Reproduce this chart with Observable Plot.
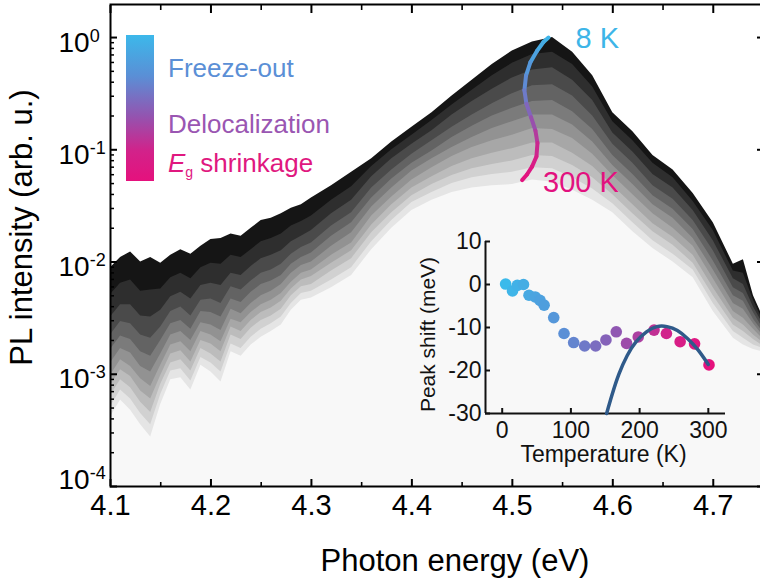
<!DOCTYPE html>
<html><head><meta charset="utf-8">
<script src="https://cdn.jsdelivr.net/npm/d3@7"></script>
<script src="https://cdn.jsdelivr.net/npm/@observablehq/plot@0.6"></script>
<style>
html,body{margin:0;padding:0;background:#fff;overflow:hidden;width:760px;height:578px;}
#wrap{position:relative;width:770px;height:578px;overflow:hidden;font-family:"Liberation Sans",Arial,Helvetica,sans-serif;}
#wrap svg{position:absolute;}
.lg{position:absolute;white-space:nowrap;font-size:26px;line-height:26px;}
</style></head><body><div id="wrap"></div>
<script>
const FONT = '"Liberation Sans", Arial, Helvetica, sans-serif';

// ---- PL spectra: photon energy (eV) and log10 of PL intensity (arb. u.) ----
const energy = [4.10,4.11,4.12,4.13,4.14,4.15,4.16,4.17,4.18,4.19,4.20,4.21,4.22,4.23,4.24,4.25,4.26,4.27,4.28,4.29,4.30,
  4.32,4.34,4.36,4.38,4.40,4.42,4.44,4.46,4.48,4.50,4.52,4.54,4.56,4.58,4.60,4.62,4.64,4.66,4.68,4.70,
  4.72,4.73,4.74,4.75];
const temps = [8,30,60,90,120,150,180,210,240,270,300];
const pl8K = [-2.05,-1.96,-1.91,-2.00,-1.96,-2.01,-1.94,-1.89,-1.93,-1.86,-1.80,-1.79,-1.75,-1.77,-1.70,-1.63,-1.61,-1.57,-1.52,-1.49,-1.43,
  -1.32,-1.20,-1.08,-0.93,-0.80,-0.67,-0.52,-0.38,-0.24,-0.12,-0.04,0.00,-0.13,-0.34,-0.67,-0.84,-1.05,-1.18,-1.39,-1.65,
  -2.02,-1.98,-2.30,-2.50];
const pl30K = [-2.29,-2.19,-2.16,-2.26,-2.25,-2.24,-2.14,-2.10,-2.15,-2.05,-2.01,-2.02,-1.94,-1.96,-1.89,-1.82,-1.79,-1.75,-1.68,-1.64,-1.59,
  -1.45,-1.33,-1.15,-1.00,-0.87,-0.74,-0.60,-0.47,-0.34,-0.23,-0.15,-0.13,-0.24,-0.44,-0.75,-0.92,-1.12,-1.25,-1.46,-1.72,
  -2.08,-2.10,-2.34,-2.53];
const pl60K = [-2.49,-2.38,-2.38,-2.48,-2.49,-2.43,-2.31,-2.27,-2.33,-2.21,-2.19,-2.21,-2.10,-2.12,-2.04,-1.97,-1.94,-1.90,-1.82,-1.77,-1.72,
  -1.57,-1.45,-1.24,-1.08,-0.95,-0.83,-0.69,-0.57,-0.46,-0.36,-0.29,-0.27,-0.38,-0.56,-0.85,-1.02,-1.22,-1.34,-1.54,-1.81,
  -2.15,-2.20,-2.40,-2.56];
const pl90K = [-2.65,-2.53,-2.55,-2.65,-2.68,-2.58,-2.44,-2.40,-2.48,-2.34,-2.33,-2.37,-2.22,-2.25,-2.17,-2.10,-2.07,-2.02,-1.93,-1.87,-1.83,
  -1.68,-1.56,-1.34,-1.18,-1.04,-0.92,-0.80,-0.69,-0.59,-0.50,-0.43,-0.42,-0.52,-0.70,-0.95,-1.12,-1.32,-1.44,-1.63,-1.90,
  -2.23,-2.28,-2.45,-2.60];
const pl120K = [-2.78,-2.66,-2.69,-2.80,-2.84,-2.70,-2.55,-2.52,-2.60,-2.44,-2.45,-2.49,-2.33,-2.36,-2.27,-2.20,-2.17,-2.12,-2.02,-1.96,-1.92,
  -1.77,-1.65,-1.43,-1.26,-1.12,-1.01,-0.89,-0.79,-0.70,-0.63,-0.57,-0.56,-0.66,-0.82,-1.05,-1.22,-1.41,-1.53,-1.71,-1.99,
  -2.30,-2.35,-2.51,-2.63];
const pl150K = [-2.90,-2.77,-2.81,-2.93,-2.98,-2.82,-2.65,-2.62,-2.70,-2.54,-2.56,-2.61,-2.42,-2.46,-2.37,-2.30,-2.26,-2.20,-2.10,-2.03,-2.00,
  -1.86,-1.74,-1.51,-1.34,-1.19,-1.08,-0.98,-0.89,-0.81,-0.75,-0.69,-0.69,-0.78,-0.93,-1.14,-1.31,-1.49,-1.61,-1.79,-2.07,
  -2.37,-2.42,-2.55,-2.66];
const pl180K = [-3.01,-2.87,-2.93,-3.04,-3.11,-2.92,-2.74,-2.71,-2.80,-2.62,-2.65,-2.71,-2.51,-2.54,-2.45,-2.38,-2.34,-2.28,-2.18,-2.10,-2.07,
  -1.94,-1.83,-1.59,-1.42,-1.27,-1.16,-1.06,-0.98,-0.92,-0.87,-0.81,-0.82,-0.90,-1.04,-1.23,-1.40,-1.57,-1.70,-1.86,-2.15,
  -2.44,-2.50,-2.60,-2.69];
const pl210K = [-3.10,-2.96,-3.02,-3.15,-3.22,-3.01,-2.82,-2.79,-2.89,-2.70,-2.73,-2.80,-2.58,-2.62,-2.52,-2.45,-2.41,-2.35,-2.24,-2.16,-2.13,
  -2.01,-1.90,-1.67,-1.49,-1.34,-1.24,-1.15,-1.08,-1.03,-0.99,-0.94,-0.94,-1.03,-1.15,-1.32,-1.49,-1.66,-1.78,-1.94,-2.23,
  -2.50,-2.56,-2.65,-2.72];
const pl240K = [-3.19,-3.05,-3.12,-3.25,-3.34,-3.09,-2.90,-2.87,-2.97,-2.77,-2.82,-2.89,-2.65,-2.69,-2.59,-2.52,-2.48,-2.42,-2.30,-2.22,-2.20,
  -2.08,-1.97,-1.74,-1.56,-1.41,-1.31,-1.23,-1.17,-1.13,-1.10,-1.05,-1.06,-1.14,-1.25,-1.40,-1.57,-1.73,-1.85,-2.01,-2.30,
  -2.56,-2.62,-2.69,-2.75];
const pl270K = [-3.29,-3.14,-3.22,-3.35,-3.45,-3.18,-2.97,-2.95,-3.06,-2.85,-2.90,-2.98,-2.73,-2.77,-2.67,-2.60,-2.55,-2.49,-2.37,-2.28,-2.26,
  -2.16,-2.05,-1.82,-1.63,-1.47,-1.38,-1.30,-1.25,-1.22,-1.20,-1.16,-1.17,-1.25,-1.35,-1.48,-1.65,-1.81,-1.93,-2.07,-2.37,
  -2.62,-2.68,-2.74,-2.77];
const pl300K = [-3.38,-3.23,-3.32,-3.45,-3.56,-3.27,-3.05,-3.03,-3.14,-2.92,-2.98,-3.07,-2.80,-2.84,-2.74,-2.67,-2.62,-2.56,-2.43,-2.34,-2.32,
  -2.23,-2.12,-1.89,-1.70,-1.54,-1.45,-1.38,-1.34,-1.32,-1.31,-1.27,-1.29,-1.36,-1.45,-1.56,-1.73,-1.88,-2.00,-2.14,-2.44,
  -2.68,-2.74,-2.78,-2.80];
const spectra = [pl8K,pl30K,pl60K,pl90K,pl120K,pl150K,pl180K,pl210K,pl240K,pl270K,pl300K];

// ---- peak position trace (8 K -> 300 K) ----
const peakE = [4.536,4.531,4.5245,4.518,4.5136,4.512,4.514,4.5186,4.523,4.525,4.524,4.5196,4.5146,4.5097];
const peakLog = [0.0,-0.04,-0.12,-0.22,-0.34,-0.47,-0.59,-0.71,-0.83,-0.94,-1.06,-1.15,-1.22,-1.27];
const peakT = [8,25,45,65,85,105,130,160,190,220,245,265,285,300];

// ---- inset: peak shift vs temperature ----
const insetT = [5,15,22,31,39,48,55,61,75,90,104,120,136,151,166,181,198,221,239,259,280,301];
const insetShift = [0.1,-1.5,-0.2,0,-2.5,-2.9,-3.7,-4.8,-7.7,-11.4,-13.5,-14.3,-14.3,-12.9,-11.0,-13.7,-12.2,-10.6,-11.4,-13.3,-13.8,-18.7];
const fitT = [152,160,170,182,195,210,225,240,255,270,285,300];
const fitShift = [-30,-25.6,-20.8,-16.5,-13.3,-11.0,-9.8,-9.8,-10.7,-12.6,-15.2,-18.6];

// ---- axis ticks ----
const xMajor = [4.1,4.2,4.3,4.4,4.5,4.6,4.7];
const xMinor = [4.15,4.25,4.35,4.45,4.55,4.65,4.75];
const yMajor = [1e-4,1e-3,1e-2,1e-1,1];
const yMinor = [];
for (let p = -4; p <= 0; p++) for (let m = 2; m <= 9; m++) { const v = m * 10 ** p; if (v < 1.97) yMinor.push(v); }

// ---- colour scales ----
const gray = d3.scalePow().exponent(0.8).domain([8,300]).range(["#151515","#f8f8f8"]);
const colorT = d3.scaleLinear().domain([8,90,170,240,300]).range(["#3cb8ea","#5a8fd6","#9354b0","#d2228a","#e5117d"]);

const peakSegs = peakE.slice(1).map((e,i) => ({
  x1: peakE[i], y1: 10 ** peakLog[i], x2: e, y2: 10 ** peakLog[i+1], c: colorT((peakT[i] + peakT[i+1]) / 2)
}));
const n = peakE.length - 1;
const ends = [
  {E: peakE[0], I: 10 ** peakLog[0], t: "8 K", c: "#3db5e8"},
  {E: peakE[n], I: 10 ** peakLog[n], t: "300 K", c: "#e2117f"}
];

const tickOpts = {tickFormat: () => "", label: null};
const main = Plot.plot({
  width: 770, height: 578, marginLeft: 110, marginRight: 7, marginTop: 4, marginBottom: 92,
  x: {domain: [4.1, 4.75]},
  y: {type: "log", domain: [1e-4, 1.97]},
  color: {type: "identity"},
  style: {fontFamily: FONT, background: "transparent", maxWidth: "none", overflow: "visible", color: "#000"},
  marks: [
    ...spectra.map((s, i) => Plot.areaY(energy.map((e, j) => ({E: e, I: 10 ** s[j]})),
      {x: "E", y1: 1e-4, y2: "I", fill: gray(temps[i])})),
    Plot.link(peakSegs, {x1: "x1", y1: "y1", x2: "x2", y2: "y2", stroke: "c", strokeWidth: 4, strokeLinecap: "round"}),
    Plot.text([ends[0]], {x: "E", y: "I", text: "t", fill: "c", textAnchor: "start", dx: 27, dy: 1, fontSize: 29}),
    Plot.text([ends[1]], {x: "E", y: "I", text: "t", fill: "c", textAnchor: "start", dx: 21, dy: 3, fontSize: 29}),
    Plot.frame({strokeWidth: 2}),
    Plot.axisX(xMajor, {anchor: "bottom", tickSize: 7, dy: -7, strokeWidth: 2, ...tickOpts}),
    Plot.axisX(xMinor, {anchor: "bottom", tickSize: 4, dy: -4, strokeWidth: 1.6, ...tickOpts}),
    Plot.axisX(xMajor, {anchor: "top", tickSize: 8, dy: 8, strokeWidth: 2, ...tickOpts}),
    Plot.axisX(xMinor, {anchor: "top", tickSize: 5, dy: 5, strokeWidth: 1.6, ...tickOpts}),
    Plot.axisY(yMajor, {anchor: "left", tickSize: 7, dx: 7, strokeWidth: 2, ...tickOpts}),
    Plot.axisY(yMinor, {anchor: "left", tickSize: 4, dx: 4, strokeWidth: 1.5, ...tickOpts}),
    Plot.axisY(yMajor, {anchor: "right", tickSize: 7, dx: -7, strokeWidth: 2, ...tickOpts}),
    Plot.axisY(yMinor, {anchor: "right", tickSize: 4, dx: -4, strokeWidth: 1.5, ...tickOpts}),
    Plot.axisX(xMajor, {anchor: "bottom", tickSize: 0, tickPadding: 8, tickFormat: d => d.toFixed(1), fontSize: 29, label: null}),
    Plot.axisY(yMajor, {anchor: "left", tickSize: 0, tickPadding: 52, textAnchor: "start",
      tickFormat: d => "10^" + Math.round(Math.log10(d)), fontSize: 28, label: null}),
    Plot.text(["Photon energy (eV)"], {text: d => d, frameAnchor: "bottom", textAnchor: "middle", lineAnchor: "bottom", dx: 18, dy: 84, fontSize: 31}),
    Plot.text(["PL intensity (arb. u.)"], {text: d => d, frameAnchor: "left", textAnchor: "middle", lineAnchor: "middle", rotate: -90, dx: -88, dy: -18, fontSize: 31})
  ]
});
main.style.left = "0px"; main.style.top = "0px";

// superscript exponents on the log axis labels
main.querySelectorAll("text").forEach(t => {
  const m = /^10\^(-?\d)$/.exec(t.textContent);
  if (!m) return;
  t.textContent = "10";
  const ts = document.createElementNS("http://www.w3.org/2000/svg", "tspan");
  ts.setAttribute("dy", "-10");
  ts.setAttribute("font-size", "18");
  ts.textContent = m[1];
  t.appendChild(ts);
  t.removeAttribute("dy");
  t.setAttribute("y", m[1] === "-4" ? "0.1em" : "0.5em");
});

const insetPts = insetT.map((T, i) => ({T, S: insetShift[i]}));
const fitPts = fitT.map((T, i) => ({T, S: fitShift[i]}));
const inset = Plot.plot({
  width: 340, height: 260, marginLeft: 85, marginTop: 21, marginBottom: 67, marginRight: 15,
  x: {domain: [-24.3, 325]},
  y: {domain: [-30, 10]},
  color: {type: "identity"},
  style: {fontFamily: FONT, background: "transparent", maxWidth: "none", overflow: "visible", color: "#111"},
  marks: [
    Plot.ruleX([-24.3], {strokeWidth: 2}),
    Plot.ruleY([-30], {strokeWidth: 2}),
    Plot.axisX([0,100,200,300], {anchor: "bottom", tickSize: 5, dy: -5, strokeWidth: 2, ...tickOpts}),
    Plot.axisY([-30,-20,-10,0,10], {anchor: "left", tickSize: 5, dx: 5, strokeWidth: 2, ...tickOpts}),
    Plot.axisX([0,100,200,300], {anchor: "bottom", tickSize: 0, tickPadding: 8, tickFormat: d => String(d), fontSize: 23, label: null}),
    Plot.axisY([-30,-20,-10,0,10], {anchor: "left", tickSize: 0, tickPadding: 4, tickFormat: d => String(d), fontSize: 23, label: null}),
    Plot.text(["Temperature (K)"], {text: d => d, frameAnchor: "bottom", textAnchor: "middle", lineAnchor: "bottom", dx: -2, dy: 48, fontSize: 23}),
    Plot.text(["Peak shift (meV)"], {text: d => d, frameAnchor: "left", textAnchor: "middle", lineAnchor: "middle", rotate: -90, dx: -57, dy: 7, fontSize: 21}),
    Plot.dot(insetPts, {x: "T", y: "S", r: 5.8, fill: d => colorT(d.T)}),
    Plot.line(fitPts, {x: "T", y: "S", stroke: "#2f5a8a", strokeWidth: 3.5, curve: "natural"})
  ]
});
inset.style.left = "400px"; inset.style.top = "220px";

const wrap = document.getElementById("wrap");
wrap.appendChild(main);
wrap.appendChild(inset);

// colour-bar legend
const bar = document.createElement("div");
bar.style.cssText = "position:absolute;left:126px;top:35px;width:28px;height:146px;background:linear-gradient(to bottom,#3cb8ea 0%,#5a8fd6 28%,#9354b0 55.5%,#d2228a 79.5%,#e5117d 100%);";
wrap.appendChild(bar);
const legendItems = [
  {html: "Freeze-out", top: 55, color: "#5b8fd6"},
  {html: "Delocalization", top: 111, color: "#9a56b2"},
  {html: '<span style="font-style:italic">E</span><span style="font-size:14px;position:relative;top:5px;">g</span> shrinkage', top: 150, color: "#e0187f"}
];
legendItems.forEach(d => {
  const el = document.createElement("div");
  el.className = "lg";
  el.style.left = "168px"; el.style.top = d.top + "px"; el.style.color = d.color;
  el.innerHTML = d.html;
  wrap.appendChild(el);
});
</script></body></html>
